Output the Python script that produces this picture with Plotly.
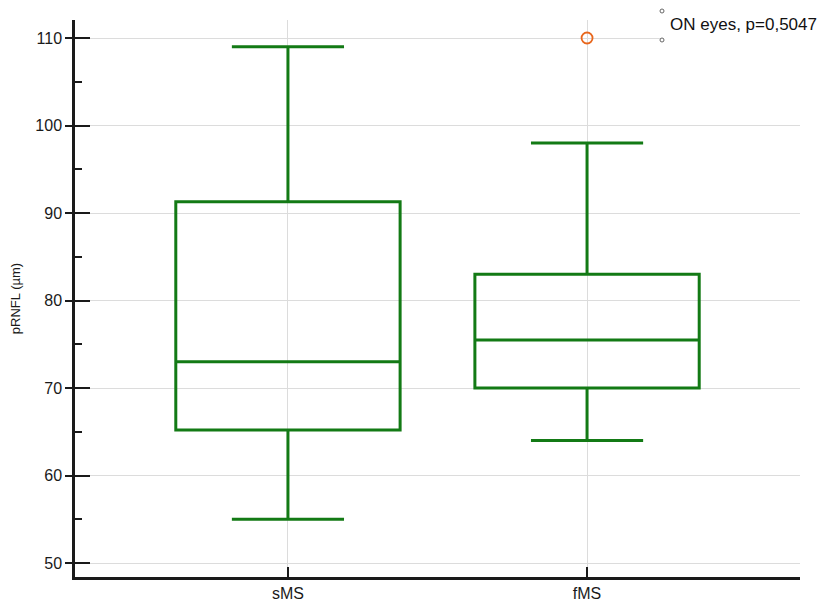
import plotly.graph_objects as go

categories = ["sMS", "fMS"]
q1 = [65.2, 70.0]
median = [73.0, 75.5]
q3 = [91.3, 83.0]
lower_whisker = [55.0, 64.0]
upper_whisker = [109.0, 98.0]
outlier_x = ["fMS"]
outlier_y = [110.0]
y_ticks = [50, 60, 70, 80, 90, 100, 110]
legend_text = "ON eyes, p=0,5047"

GREEN = "#137a15"
FONT = "Liberation Sans, Arial, sans-serif"

fig = go.Figure()
fig.add_trace(go.Box(
    x=categories, q1=q1, median=median, q3=q3,
    lowerfence=lower_whisker, upperfence=upper_whisker,
    fillcolor="rgba(255,255,255,0)",
    line=dict(color=GREEN, width=3),
    whiskerwidth=0.5, width=0.75, boxpoints=False,
    showlegend=False, hoverinfo="y",
))
fig.add_trace(go.Scatter(
    x=outlier_x, y=outlier_y, mode="markers",
    marker=dict(symbol="circle-open", size=11, color="#e8661c", line=dict(width=1.8)),
    showlegend=False,
))
# helper trace for the inner tick axis
fig.add_trace(go.Scatter(
    x=[categories[0]], y=[y_ticks[0]], yaxis="y2", mode="markers",
    marker=dict(opacity=0), showlegend=False, hoverinfo="skip",
))

yrange = [48.4, 112.06]
# page body has an 8px margin; size figure so the plot area lands at x 75-800, y 20-577
fig.update_layout(
    width=819, height=596,
    margin=dict(l=67, r=27, t=12, b=27, autoexpand=False),
    paper_bgcolor="white", plot_bgcolor="white",
    font=dict(family=FONT, size=16, color="#1a1a1a"),
    xaxis=dict(
        type="category", categoryorder="array", categoryarray=categories,
        range=[-0.712, 1.712], automargin=False,
        showline=True, linecolor="#1a1a1a", linewidth=2.5,
        ticks="inside", ticklen=10, tickwidth=2, tickcolor="#1a1a1a",
        showgrid=True, gridcolor="#dcdcdc", gridwidth=1,
        tickfont=dict(size=16, color="#1a1a1a"),
        zeroline=False,
    ),
    yaxis=dict(
        range=yrange, tickvals=y_ticks, automargin=False,
        showline=True, linecolor="#1a1a1a", linewidth=2.5,
        ticks="outside", ticklen=7, tickwidth=2, tickcolor="#1a1a1a",
        showgrid=True, gridcolor="#dcdcdc", gridwidth=1,
        tickfont=dict(size=16, color="#1a1a1a"),
        title=dict(text="pRNFL (µm)", font=dict(size=13, color="#1a1a1a"), standoff=13),
        zeroline=False,
    ),
    yaxis2=dict(
        range=yrange, overlaying="y", side="left", anchor="x", automargin=False,
        tickmode="linear", tick0=50, dtick=10,
        ticks="inside", ticklen=15, tickwidth=2, tickcolor="#1a1a1a",
        minor=dict(ticks="inside", ticklen=7, tickwidth=1.5, tickcolor="#1a1a1a", dtick=5, tick0=55, showgrid=False),
        showticklabels=False, showgrid=False, showline=False, zeroline=False,
    ),
)

W, H = 725.0, 557.0
def px(x):
    return (x - 75) / W
def py(y):
    return (577 - y) / H

fig.add_shape(type="rect", xref="paper", yref="paper",
              x0=px(662), x1=px(805), y0=py(41), y1=py(9),
              fillcolor="white", line=dict(width=0), layer="above")
for yy in (11, 40):
    fig.add_shape(type="circle", xref="paper", yref="paper",
                  x0=px(660), x1=px(664), y0=py(yy + 2), y1=py(yy - 2),
                  line=dict(color="#666", width=1), fillcolor="white", layer="above")
fig.add_annotation(text=legend_text, xref="paper", yref="paper",
                   x=px(668), y=py(24), xanchor="left", yanchor="middle",
                   showarrow=False, font=dict(size=17, color="#111", family=FONT))

fig.write_html("out.html")
